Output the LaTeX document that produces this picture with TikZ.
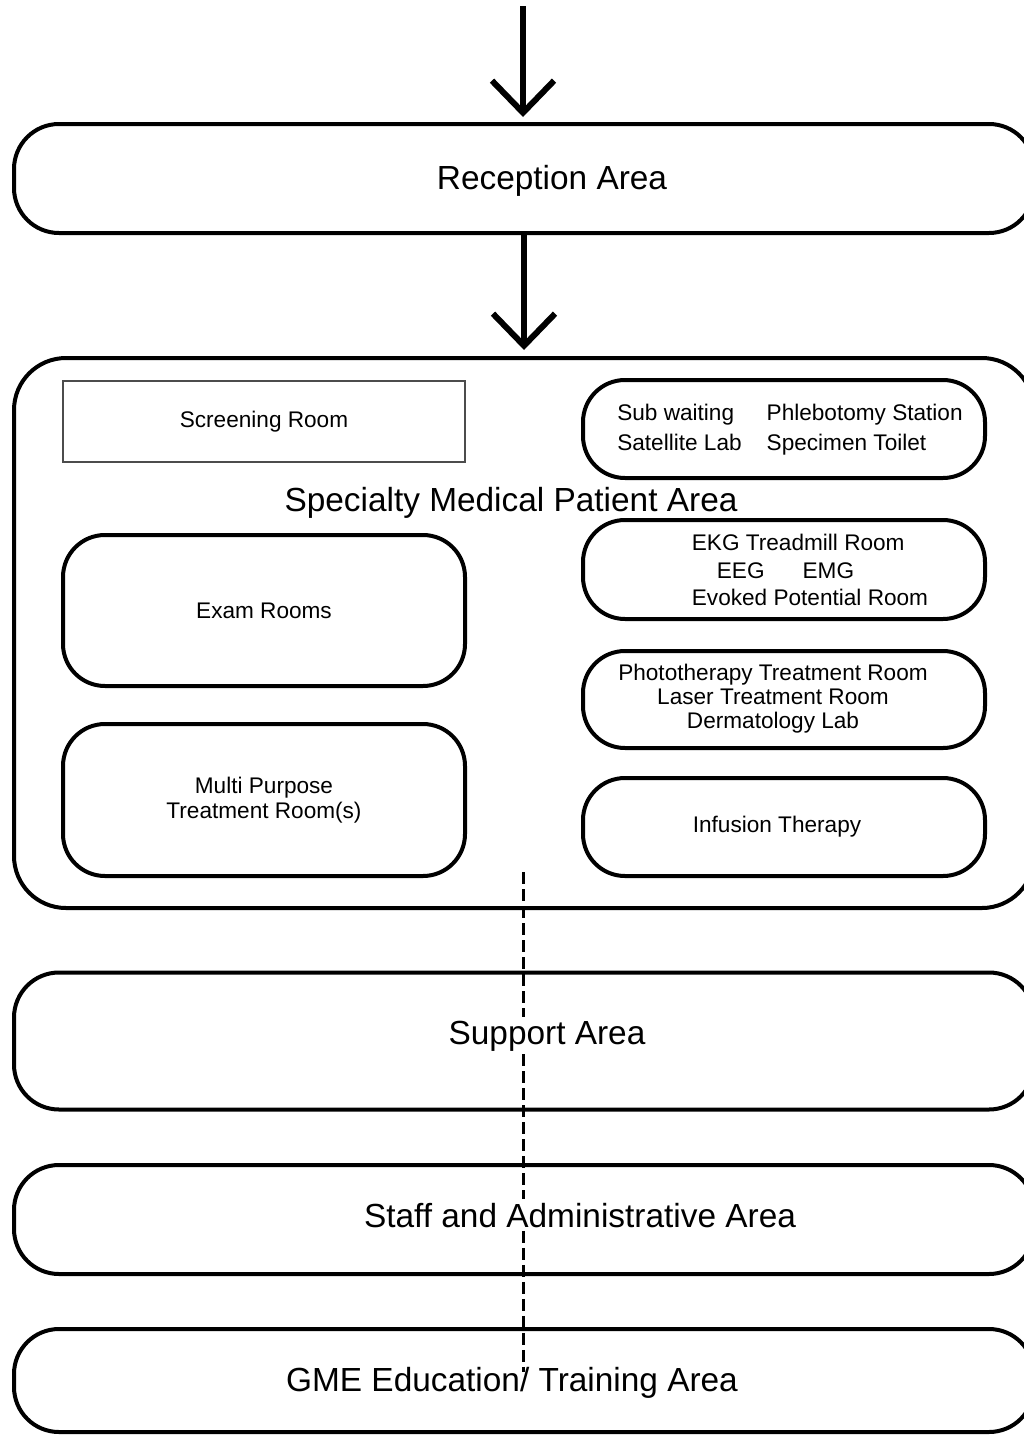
\documentclass[tikz,border=0pt]{standalone}
\usepackage{fontspec}
\setmainfont{Liberation Sans}
\usetikzlibrary{arrows.meta}

\begin{document}
\begin{tikzpicture}[x=1pt, y=-1pt,
        area/.style = {draw, line width=4pt, rounded corners=45pt, minimum width=1020pt},
        room/.style = {draw, line width=4pt, rounded corners=42pt, minimum width=402pt,
                       align=center, font=\fontsize{22.6}{25}\selectfont},
        big/.style = {anchor=base, font=\fontsize{33.4}{40}\selectfont},
        flow/.style = {line width=6pt, -{Straight Barb[length=32pt, width=62pt]}},
        link/.style = {line width=3pt, dash pattern=on 12pt off 5pt}]
    \useasboundingbox (0,0) rectangle (1024,1435);
    \clip (0,0) rectangle (1024,1435);

    % areas
    \node[area, minimum height=109pt] (R) at (524,178.5) {};
    \node[area, minimum height=550pt, rounded corners=52pt] (S) at (524,633) {};
    \node[area, minimum height=137pt] (U) at (524,1041) {};
    \node[area, minimum height=109pt] (F) at (524,1219.5) {};
    \node[area, minimum height=103pt] (G) at (524,1380.5) {};

    \node[big] (Rt) at (552,189) {Reception Area};
    \node[big] (St) at (511,511) {Specialty Medical Patient Area};
    \node[big] (Ut) at (547,1044) {Support Area};
    \node[big] (Ft) at (580,1227) {Staff and Administrative Area};
    \node[big] (Gt) at (512,1391) {GME Education/ Training Area};

    % rooms
    \node[draw=black!70, line width=1.5pt, minimum width=402pt, minimum height=81pt,
          font=\fontsize{22.6}{25}\selectfont] (Scr) at (264,421.5) {Screening Room};
    \node[room, minimum height=151pt] (Exam) at (264,610.5) {Exam Rooms};
    \node[room, minimum height=152pt] (Multi) at (264,800) {Multi Purpose\\ Treatment Room(s)};

    \node[room, minimum height=98pt] (Sub) at (784,429) {\fontsize{22.6}{30}\selectfont
        \hspace*{12pt}\begin{tabular}{@{}l@{\hspace{25pt}}l@{}}
            Sub waiting & Phlebotomy Station\\
            Satellite Lab & Specimen Toilet
        \end{tabular}};
    \node[room, minimum height=99pt] (EKG) at (784,569.5) {\fontsize{22.6}{27.5}\selectfont
        \hspace*{52pt}\begin{tabular}{@{}l@{}}
            \rule{0pt}{26pt}EKG Treadmill Room\\
            \hspace*{25pt}EEG\hspace{38pt}EMG\\
            Evoked Potential Room
        \end{tabular}};
    \node[room, minimum height=97pt] (Pho) at (784,699.5) {\fontsize{22.6}{24}\selectfont
        \begin{tabular}{@{}c@{}}
            Phototherapy Treatment Room\\
            Laser Treatment Room\\
            Dermatology Lab
        \end{tabular}\hspace*{22pt}};
    \node[room, minimum height=98pt] (Inf) at (784,827) {Infusion Therapy\hspace*{14pt}};

    % flow
    \coordinate (in) at (523,6);
    \coordinate (d1) at (523,872);
    \draw[flow, shorten >=5pt] (in) -- (in |- R.north);
    \draw[flow, shorten >=6pt] (R.south) -- (S.north);

    \draw[link] (d1) -- (d1 |- Ut.north);
    \draw[link] (d1 |- Ut.south) -- (d1 |- Ft.north);
    \draw[link, shorten >=-9pt] (d1 |- Ft.south) -- (d1 |- Gt.north);
\end{tikzpicture}
\end{document}
